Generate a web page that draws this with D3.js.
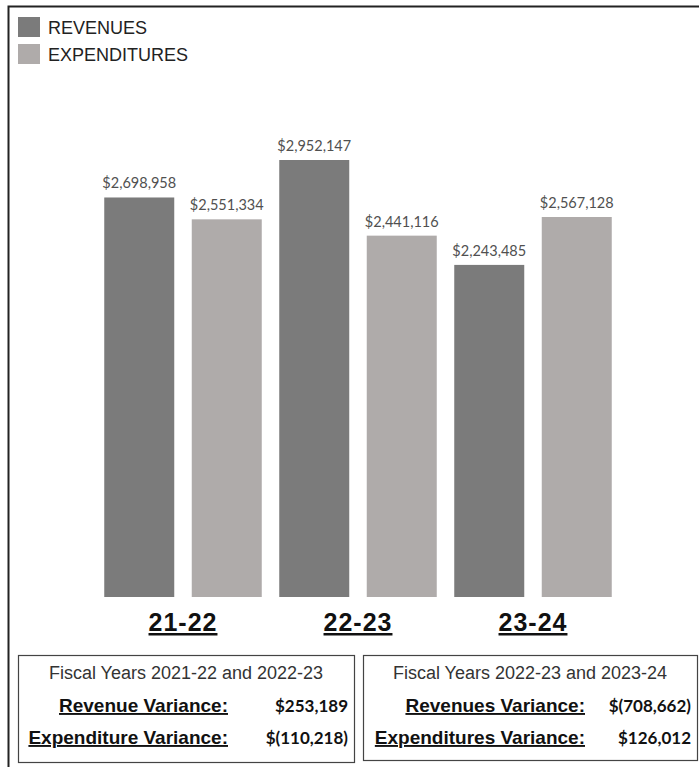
<!DOCTYPE html>
<html><head><meta charset="utf-8">
<script src="https://cdn.jsdelivr.net/npm/d3@7"></script>
<style>
html,body{margin:0;padding:0;background:#fff;}
svg{display:block;}
</style></head>
<body>
<svg id="chart" width="699" height="767"></svg>
<script>
const categories = ["21-22", "22-23", "23-24"];
const seriesNames = ["REVENUES", "EXPENDITURES"];
const revenues = [2698958, 2952147, 2243485];
const expenditures = [2551334, 2441116, 2567128];
const valueLabels = [["$2,698,958", "$2,551,334"], ["$2,952,147", "$2,441,116"], ["$2,243,485", "$2,567,128"]];
const boxTitles = ["Fiscal Years 2021-22 and 2022-23", "Fiscal Years 2022-23 and 2023-24"];
const boxRowLabels = [["Revenue Variance:", "Expenditure Variance:"], ["Revenues Variance:", "Expenditures Variance:"]];
const boxRowValues = [["$253,189", "$(110,218)"], ["$(708,662)", "$126,012"]];

const colors = ["#7b7b7b", "#afabaa"];
const sans = "'Liberation Sans', Arial, sans-serif";
const numFont = "Lato, 'Open Sans', sans-serif";

const svg = d3.select("#chart");

// outer frame (left + top visible)
svg.append("path").attr("d", "M8.5,767 L8.5,6.5 L699,6.5")
  .attr("fill", "none").attr("stroke", "#222").attr("stroke-width", 2);

// legend
seriesNames.forEach((s, i) => {
  svg.append("rect").attr("x", 18).attr("y", 17 + i * 27).attr("width", 22).attr("height", 20).attr("fill", colors[i]);
  svg.append("text").attr("x", 48).attr("y", 34 + i * 27).text(s)
    .attr("font-family", sans).attr("font-size", 18).attr("fill", "#222");
});

// scales
const x0 = d3.scaleBand().domain(categories).range([95.5, 620.5]).paddingInner(0).paddingOuter(0);
const x1 = d3.scaleBand().domain(seriesNames).range([0, x0.bandwidth()]).paddingInner(0.2).paddingOuter(0.1);
const y = d3.scaleLinear().domain([0, 3000000]).range([597, 597 - 437 * 3000000 / 2952147]);

const data = categories.map((c, i) => ({c, vals: [revenues[i], expenditures[i]]}));

const g = svg.append("g");
data.forEach((d, i) => {
  d.vals.forEach((v, j) => {
    const bx = x0(d.c) + x1(seriesNames[j]);
    g.append("rect").attr("x", bx).attr("y", y(v)).attr("width", x1.bandwidth()).attr("height", y(0) - y(v))
      .attr("fill", colors[j]);
    g.append("text").attr("x", bx + x1.bandwidth() / 2).attr("y", y(v) - 9)
      .attr("text-anchor", "middle").attr("font-family", numFont).attr("font-size", 14.5)
      .attr("fill", "#505050").text(valueLabels[i][j]);
  });
});

// category axis labels
categories.forEach(c => {
  svg.append("text").attr("x", x0(c) + x0.bandwidth() / 2).attr("y", 631)
    .attr("text-anchor", "middle").attr("font-family", sans).attr("font-weight", "bold")
    .attr("font-size", 25).attr("fill", "#111").attr("text-decoration", "underline")
    .attr("letter-spacing", 1).text(c);
});

// variance boxes
const boxes = [{x: 18, w: 336, h: 107, lblEnd: 228}, {x: 363, w: 334, h: 105, lblEnd: 585}];
boxes.forEach((b, i) => {
  svg.append("rect").attr("x", b.x + 0.5).attr("y", 655.5).attr("width", b.w).attr("height", b.h)
    .attr("fill", "none").attr("stroke", "#444").attr("stroke-width", 1.2);
  svg.append("text").attr("x", b.x + b.w / 2).attr("y", 679).attr("text-anchor", "middle")
    .attr("font-family", sans).attr("font-size", 18).attr("fill", "#333").text(boxTitles[i]);
  [0, 1].forEach(r => {
    const ty = 712 + r * 32;
    svg.append("text").attr("x", b.lblEnd).attr("y", ty).attr("text-anchor", "end")
      .attr("font-family", sans).attr("font-weight", "bold")
      .attr("font-size", 19).attr("fill", "#111").attr("text-decoration", "underline").text(boxRowLabels[i][r]);
    svg.append("text").attr("x", b.x + b.w - 6).attr("y", ty).attr("text-anchor", "end")
      .attr("font-family", numFont).attr("font-weight", "bold").attr("font-size", 17)
      .attr("fill", "#111").text(boxRowValues[i][r]);
  });
});
</script>
</body></html>
